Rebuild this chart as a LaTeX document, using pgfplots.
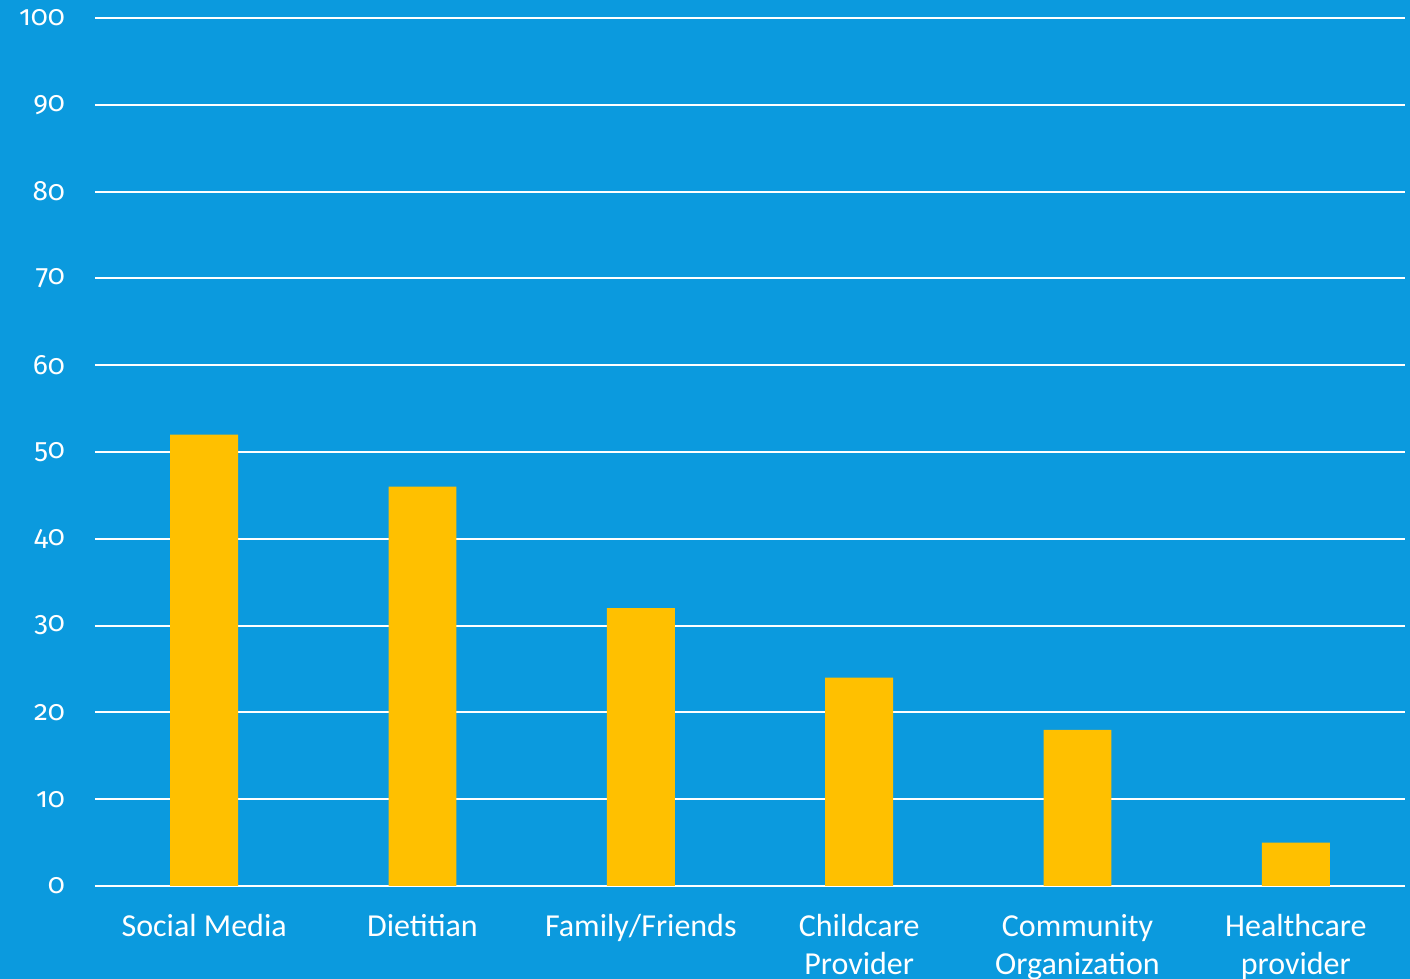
\documentclass[border=0pt]{standalone}
\usepackage{fontspec}
\setmainfont{Carlito}
\newfontfamily\numfont{Fira Sans}[Numbers=OldStyle]
\usepackage{pgfplots}
\pgfplotsset{compat=1.18}
\definecolor{bgblue}{RGB}{11,154,222}
\definecolor{baryellow}{RGB}{255,192,0}
\begin{document}
\begin{tikzpicture}
\fill[bgblue] (-47.5pt,-46.5pt) rectangle (657.5pt,443pt);
\useasboundingbox (-47.5pt,-46.5pt) rectangle (657.5pt,443pt);
\begin{axis}[
  at={(0,0)}, anchor=south west,
  scale only axis, width=655pt, height=434pt,
  ymin=0, ymax=100, xmin=-0.5, xmax=5.5,
  ytick={0,10,...,100},
  xtick={0,1,2,3,4,5},
  xticklabels={Social Media, Dietitian, Family/Friends, Childcare\\Provider, Community\\Organization, Healthcare\\provider},
  axis line style={draw=none},
  major tick length=0pt,
  ymajorgrids,
  grid style={white, line width=1pt},
  /pgf/number format/assume math mode=true,
  yticklabel style={text=white, font=\numfont\fontsize{14}{16}\selectfont, anchor=east, xshift=-11.5pt},
  xticklabel style={text=white, font=\fontsize{16}{19}\selectfont, align=center, anchor=north, yshift=-10.5pt},
]
\addplot[ybar, fill=baryellow, draw=none, bar width=0.311] coordinates {(0,52) (1,46) (2,32) (3,24) (4,18) (5,5)};
\end{axis}
\end{tikzpicture}
\end{document}
